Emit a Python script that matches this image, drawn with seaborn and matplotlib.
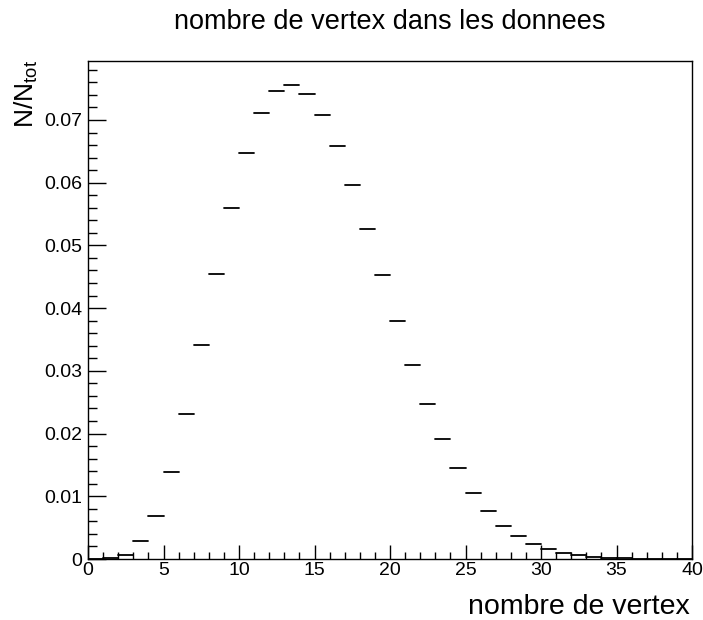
import matplotlib
matplotlib.use("Agg")
import matplotlib.pyplot as plt
import seaborn as sns
import pandas as pd
import numpy as np
from matplotlib.ticker import MultipleLocator, FuncFormatter

# ---- data ----
bin_low = list(range(0, 40))
bin_width = 1
frac = [0.0, 0.0001, 0.0007, 0.0028, 0.0069, 0.0138, 0.0231, 0.0341, 0.0455, 0.0560,
        0.0648, 0.0711, 0.0746, 0.0756, 0.0742, 0.0708, 0.0658, 0.0596, 0.0526, 0.0453,
        0.0380, 0.0310, 0.0247, 0.0191, 0.0145, 0.0106, 0.0077, 0.0053, 0.0036, 0.0024,
        0.00155, 0.00096, 0.0006, 0.00037, 0.0002, 0.0001, 0.00005, 0.00002, 0.00001, 0.0]

title = "nombre de vertex dans les donnees"
xlabel = "nombre de vertex"
ylabel = r"N/N$_{\mathregular{tot}}$"

sns.set_style("ticks")
plt.rcParams["font.family"] = ["Liberation Sans", "DejaVu Sans"]
plt.rcParams["mathtext.fontset"] = "custom"
plt.rcParams["mathtext.rm"] = "Liberation Sans"
plt.rcParams["text.color"] = "black"
plt.rcParams["xtick.color"] = "black"
plt.rcParams["ytick.color"] = "black"
plt.rcParams["xtick.labelcolor"] = "black"
plt.rcParams["ytick.labelcolor"] = "black"

rows = []
for i, (lo, v) in enumerate(zip(bin_low, frac)):
    rows.append({"bin": i, "x": lo, "y": v})
    rows.append({"bin": i, "x": lo + bin_width, "y": v})
df = pd.DataFrame(rows)

fig = plt.figure(figsize=(7.03, 6.2), dpi=100)
ax = fig.add_axes([88 / 703, 1 - 559 / 620, (692 - 88) / 703, (559 - 61) / 620])

sns.lineplot(data=df, x="x", y="y", units="bin", estimator=None,
             color="black", linewidth=1.3, ax=ax, legend=False)

ax.set_xlim(0, 40)
ax.set_ylim(0, 0.0794)
ax.xaxis.set_major_locator(MultipleLocator(5))
ax.xaxis.set_minor_locator(MultipleLocator(1))
ax.yaxis.set_major_locator(MultipleLocator(0.01))
ax.yaxis.set_minor_locator(MultipleLocator(0.002))
ax.yaxis.set_major_formatter(FuncFormatter(lambda v, p: "0" if abs(v) < 1e-12 else f"{v:.2f}"))
ax.xaxis.set_major_formatter(FuncFormatter(lambda v, p: f"{v:g}"))

ax.tick_params(axis="x", which="major", direction="in", length=10, width=1, labelsize=14, pad=2,
               color="black", labelcolor="black")
ax.tick_params(axis="x", which="minor", direction="in", length=5, width=1, color="black")
ax.tick_params(axis="y", which="major", direction="in", length=13, width=1, labelsize=14, pad=4,
               color="black", labelcolor="black")
ax.tick_params(axis="y", which="minor", direction="in", length=6.5, width=1, color="black")
for s in ax.spines.values():
    s.set_visible(True)
    s.set_color("black")
    s.set_linewidth(1)
ax.set_xlabel("")
ax.set_ylabel("")

fig.text(390 / 703, 1 - 22 / 620, title, ha="center", va="center", fontsize=19.5, color="black")
fig.text(690 / 703, 1 - 614 / 620, xlabel, ha="right", va="baseline", fontsize=20.5, color="black")
fig.text(26 / 703, 1 - 60 / 620, ylabel, ha="center", va="top", rotation=90, fontsize=19, color="black")

fig.savefig("out.png", dpi=100)
